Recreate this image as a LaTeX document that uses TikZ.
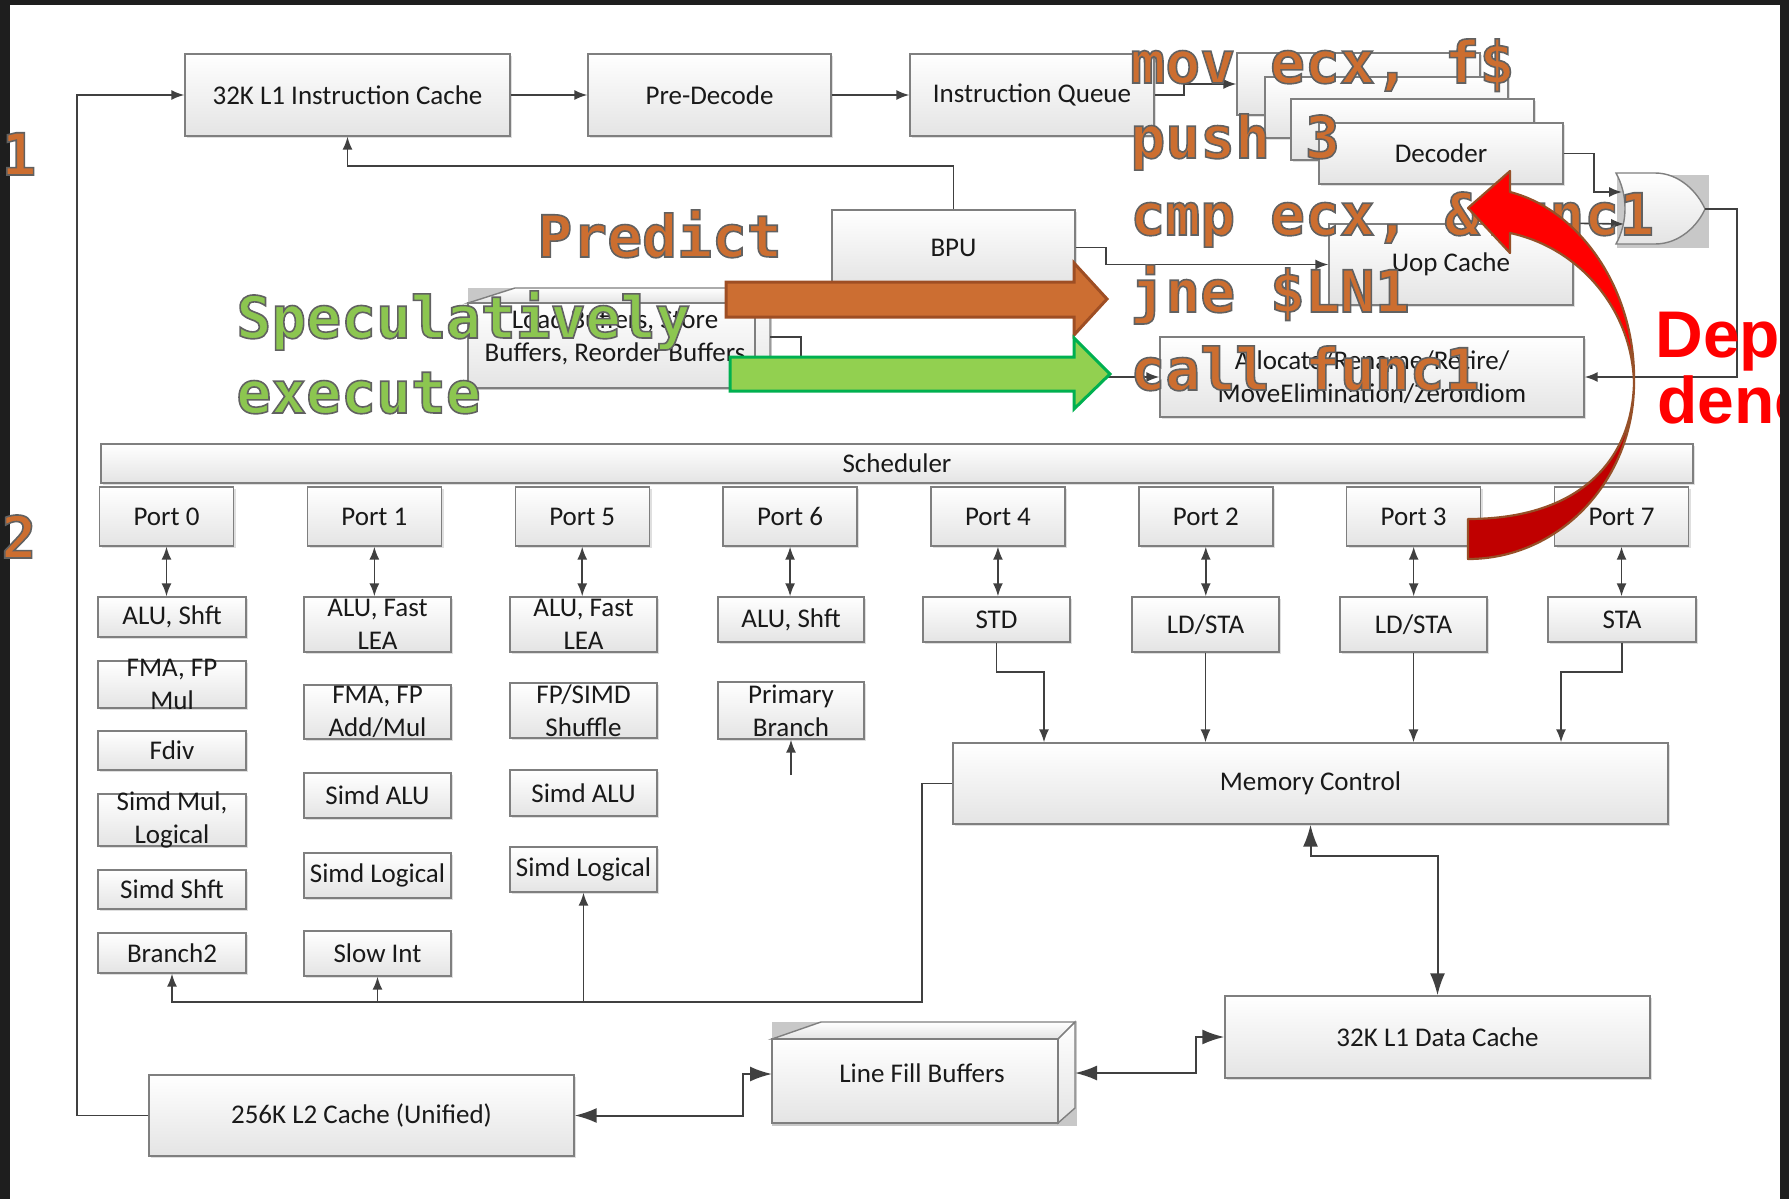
\documentclass[tikz,border=0pt]{standalone}
\usepackage{fontspec}
\setmainfont{Carlito}
\newfontfamily\codefont{DejaVu Sans Mono}
\newfontfamily\tagfont{Liberation Sans}
\usetikzlibrary{arrows.meta,shadows}
\definecolor{framebg}{HTML}{1E1E1E}
\definecolor{boxline}{HTML}{7F7F7F}
\definecolor{boxbot}{HTML}{E4E4E4}
\definecolor{wire}{HTML}{404040}
\definecolor{codeorange}{RGB}{204,110,48}
\definecolor{codegreen}{RGB}{140,198,80}
\definecolor{predfill}{RGB}{204,110,50}
\definecolor{predline}{RGB}{158,78,36}
\definecolor{specfill}{RGB}{146,208,80}
\definecolor{specline}{RGB}{0,176,80}
\definecolor{deplight}{RGB}{255,0,0}
\definecolor{depdark}{RGB}{192,0,0}
\definecolor{depline}{RGB}{150,80,40}
\definecolor{shade3d}{RGB}{200,200,200}
\newcommand{\outlined}[1]{\special{pdf:literal direct 0.38 0.38 0.38 RG 2 Tr 0.8 w}#1\special{pdf:literal direct 0 Tr}}

\begin{document}
\begin{tikzpicture}[x=0.5pt,y=-0.5pt,
  boxtext/.style={align=center,text=black!90,font=\fontsize{13.5}{16.5}\selectfont},
  box/.style={boxtext,draw=boxline,line width=0.7pt,top color=white,bottom color=boxbot,
    drop shadow={shadow xshift=1.2pt,shadow yshift=-1.2pt,opacity=0.25},
    inner xsep=2pt,inner ysep=-4pt},
  wh/.style 2 args={minimum width=#1*0.5pt,minimum height=#2*0.5pt},
  solid3d/.style={draw=boxline,line width=0.7pt,top color=white,bottom color=boxbot},
  flow/.style={draw=wire,line width=0.8pt,-{Latex[length=6.5pt,width=5pt]}},
  dflow/.style={draw=wire,line width=0.8pt,{Latex[length=6.5pt,width=5pt]}-{Latex[length=6.5pt,width=5pt]}},
  bigflow/.style={draw=wire,line width=1pt,-{Latex[length=11pt,width=7.5pt]}},
  dbigflow/.style={draw=wire,line width=1pt,{Latex[length=11pt,width=7.5pt]}-{Latex[length=11pt,width=7.5pt]}},
  code/.style={anchor=base west,inner sep=0pt,text=codeorange,font=\codefont\bfseries\fontsize{29}{29}\selectfont},
  tag/.style={anchor=base west,inner sep=0pt,text=deplight,font=\tagfont\bfseries\fontsize{33}{33}\selectfont}]
\useasboundingbox (0,0) rectangle (1789,1199);
\fill[white] (0,0) rectangle (1789,1199);

% front end
\node[box,wh={325}{82}] (ic) at (347.5,95) {32K L1 Instruction Cache};
\node[box,wh={243}{82}] (pd) at (709.5,95) {Pre-Decode};
\node[box,wh={244}{82}] (iq) at (1032,95) {Instruction Queue};
\node[box,wh={243}{62}] (dec1) at (1358.5,84) {};
\node[box,wh={243}{61}] (dec2) at (1386.5,107.5) {};
\node[box,wh={243}{61}] (dec3) at (1412.5,129.5) {};
\node[box,wh={244}{61}] (dec) at (1441,153.5) {Decoder};
\node[box,wh={243}{75}] (bpu) at (953.5,247.5) {BPU};
\node[box,wh={244}{81}] (uop) at (1451,264.5) {Uop Cache};
\node[box,wh={424}{80}] (alloc) at (1372,377) {Allocate/Rename/Retire/\\MoveElimination/ZeroIdiom};

\fill[shade3d] (468,288) rectangle (772,390);
\draw[solid3d] (468,303) -- (515,288) -- (770,288) -- (755,303) -- cycle;
\draw[solid3d] (755,303) -- (770,288) -- (770,373) -- (755,388) -- cycle;
\draw[solid3d] (468,303) rectangle (755,388);
\node[boxtext] (lsb) at (615,337) {Load Buffers, Store\\Buffers, Reorder Buffers};
\coordinate (lsbout) at (770,337);

\fill[shade3d] (1617,175) rectangle (1709,248);
\draw[solid3d] (1616,173) -- (1655,173) .. controls (1680,173) and (1698,193) .. (1705,209)
  .. controls (1698,225) and (1680,244) .. (1655,244) -- (1616,244)
  .. controls (1628,222) and (1628,195) .. (1616,173) -- cycle;
\coordinate (orin1) at (1622,192);
\coordinate (orin2) at (1624,224);
\coordinate (orout) at (1705,209);

% back end
\node[box,wh={1592}{39}] (sched) at (897,463.5) {Scheduler};
\foreach \n [count=\i from 0] in {0,1,5,6,4,2,3,7}
  \node[box,wh={134}{59}] (p\n) at (166.5+207.86*\i,516.5) {Port \n};

\node[box,wh={148}{40}] (u0a) at (172,617) {ALU, Shft};
\node[box,wh={148}{47}] (u0b) at (172,684.5) {FMA, FP\\Mul};
\node[box,wh={148}{39}] (u0c) at (172,750.5) {Fdiv};
\node[box,wh={148}{52}] (u0d) at (172,820) {Simd Mul,\\Logical};
\node[box,wh={148}{39}] (u0e) at (172,889.5) {Simd Shft};
\node[box,wh={148}{40}] (br2) at (172,953) {Branch2};
\node[box,wh={147}{55}] (u1a) at (377.5,624.5) {ALU, Fast\\LEA};
\node[box,wh={147}{54}] (u1b) at (377.5,712) {FMA, FP\\Add/Mul};
\node[box,wh={147}{45}] (u1c) at (377.5,795.5) {Simd ALU};
\node[box,wh={147}{45}] (u1d) at (377.5,875.5) {Simd Logical};
\node[box,wh={147}{45}] (slow) at (377.5,953.5) {Slow Int};
\node[box,wh={147}{55}] (u5a) at (583.5,624.5) {ALU, Fast\\LEA};
\node[box,wh={147}{55}] (u5b) at (583.5,710.5) {FP/SIMD\\Shuffle};
\node[box,wh={147}{46}] (u5c) at (583.5,793) {Simd ALU};
\node[box,wh={147}{45}] (u5d) at (583.5,869.5) {Simd Logical};
\node[box,wh={146}{45}] (u6a) at (791,619.5) {ALU, Shft};
\node[box,wh={146}{57}] (pbr) at (791,710.5) {Primary\\Branch};
\node[box,wh={147}{45}] (std) at (996.5,619.5) {STD};
\node[box,wh={147}{55}] (lda) at (1205.5,624.5) {LD/STA};
\node[box,wh={147}{55}] (ldb) at (1413.5,624.5) {LD/STA};
\node[box,wh={148}{45}] (sta) at (1622,619.5) {STA};

\node[box,wh={715}{81}] (mc) at (1310.5,783.5) {Memory Control};
\node[box,wh={425}{82}] (l1d) at (1437.5,1037) {32K L1 Data Cache};
\node[box,wh={425}{81}] (l2) at (361.5,1115.5) {256K L2 Cache (Unified)};

\fill[shade3d] (772,1022) rectangle (1077,1126);
\draw[solid3d] (772,1039) -- (821,1022) -- (1075,1022) -- (1058,1039) -- cycle;
\draw[solid3d] (1058,1039) -- (1075,1022) -- (1075,1108) -- (1058,1123) -- cycle;
\draw[solid3d] (772,1039) rectangle (1058,1123);
\node[boxtext] (lfb) at (922,1073) {Line Fill Buffers};
\coordinate (lfbw) at (772,1074);
\coordinate (lfbe) at (1075,1073);

% connectors
\coordinate (fbk) at (77,95);
\coordinate (bpuk) at (347.5,166);
\coordinate (stdk) at (1044,672);
\coordinate (stak) at (1561,672);
\coordinate (busk) at (922,1002);
\coordinate (pbrk) at (791,775);
\draw[flow] (l2.west) -| (fbk) -- (ic.west);
\draw[flow] (ic) -- (pd);
\draw[flow] (pd) -- (iq);
\draw[flow] (iq.east) -- ++(29,0) |- (dec1.west);
\draw[flow] (bpu.north) |- (bpuk) -- (ic.south);
\draw[flow] (bpu.east) -- ++(30,0) |- (uop.west);
\draw[flow] (dec.east) -- ++(30,0) |- (orin1);
\draw[flow] (uop.north east) -- (orin2);
\draw[flow] (orout) -- ++(32,0) |- (alloc.east);
\draw[flow] (lsbout) -- ++(31,0) |- (alloc.west);
\foreach \n/\u in {0/u0a,1/u1a,5/u5a,6/u6a,4/std,2/lda,3/ldb,7/sta}
  \draw[dflow] (p\n.south) -- (p\n.south |- \u.north);
\draw[flow] (pbrk) -- (pbr.south);
\draw[flow] (std.south) |- (stdk) -- (stdk |- mc.north);
\draw[flow] (lda.south) -- (lda.south |- mc.north);
\draw[flow] (ldb.south) -- (ldb.south |- mc.north);
\draw[flow] (sta.south) |- (stak) -- (stak |- mc.north);
\draw[flow] (mc.west) -| (busk) -| (br2.south);
\draw[flow] (slow.south |- busk) -- (slow.south);
\draw[flow] (u5d.south |- busk) -- (u5d.south);
\draw[dbigflow] (mc.south) -- ++(0,31) -| (l1d.north);
\draw[dbigflow] (lfbe) -- ++(121,0) |- (l1d.west);
\draw[dbigflow] (l2.east) -- ++(168,0) |- (lfbw);

% overlay
\filldraw[fill=predfill,draw=predline,line width=1.5pt] (726,282) -- (1074,282) -- (1074,263) -- (1107,299) -- (1074,335) -- (1074,317) -- (726,317) -- cycle;
\filldraw[fill=specfill,draw=specline,line width=1.5pt] (730,357) -- (1074,357) -- (1074,338) -- (1110,374) -- (1074,409) -- (1074,391) -- (730,391) -- cycle;
\node[code] (predict) at (537,257) {\outlined{Predict}};
\node[code,text=codegreen] (spec1) at (236,338) {\outlined{Speculatively}};
\node[code,text=codegreen] (spec2) at (236,413) {\outlined{execute}};
\node[code] (code1) at (1130,83) {\outlined{mov ecx, f\$}};
\node[code] (code2) at (1130,158) {\outlined{push 3}};
\node[code] (code3) at (1130,235) {\outlined{cmp ecx, \&func1}};
\node[code] (code4) at (1130,312) {\outlined{jne \$LN1}};
\node[code] (code5) at (1130,390) {\outlined{call func1}};

\filldraw[fill=depdark,draw=depline,line width=1.1pt,line join=round] (1634,383) .. controls (1634,480) and (1560,559) .. (1468,559) -- (1468,519) .. controls (1580,519) and (1632,460) .. (1634,383) -- cycle;
\filldraw[fill=deplight,draw=depline,line width=1.1pt,line join=round] (1510,192) -- (1510,171) -- (1468,208) -- (1510,253) -- (1510,233) .. controls (1580,248) and (1632,310) .. (1634,383) .. controls (1636,290) and (1580,210) .. (1510,192) -- cycle;

\begin{scope}
\clip (0,0) rectangle (1780,1199);
\node[tag] (dep1) at (1655,357) {Depen};
\node[tag] (dep2) at (1657,423) {dency};
\end{scope}

\fill[framebg] (0,0) rectangle (1789,5);
\fill[framebg] (0,0) rectangle (10,1199);
\fill[framebg] (1780,0) rectangle (1789,1199);
\node[code,anchor=base] (step1) at (19,175) {\outlined{1}};
\node[code,anchor=base] (step2) at (19,558) {\outlined{2}};
\end{tikzpicture}
\end{document}
